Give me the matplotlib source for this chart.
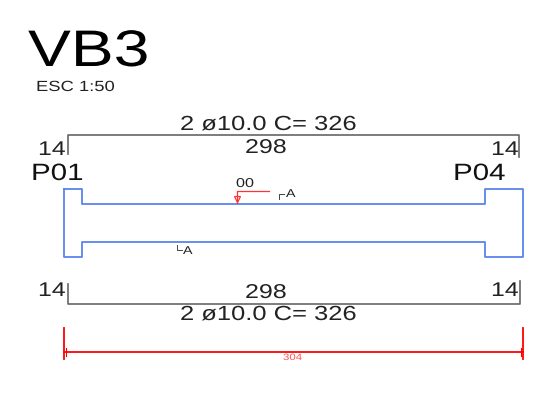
import matplotlib
matplotlib.use('Agg')
import matplotlib.pyplot as plt
from matplotlib.patheffects import AbstractPathEffect

# everything is read off the picture in pixels, the drawing has no real axes
beam_x = [64, 82, 82, 485, 485, 523, 523, 485, 485, 82, 82, 64, 64]
beam_y = [188.5, 188.5, 203.5, 203.5, 188.5, 188.5, 257, 257, 241.5, 241.5, 257, 257, 188.5]

top_bar_x = [68, 68, 519, 519]
top_bar_y = [154, 135, 135, 157]
bottom_bar_x = [67.5, 67.5, 520, 520]
bottom_bar_y = [284, 304, 304, 281]

dim_x = [64, 523]
dim_y = 352
dim_tick_y = [328, 359]
dim_end_y = [348, 356]

leader_x = [269, 237, 237]
leader_y = [191, 191, 203]

labels = [
    # text, left x, baseline y, size, colour
    ('VB3', 28, 66, 37, 'black'),
    ('ESC 1:50', 36, 91, 10.6, '#222222'),
    ('2 ø10.0 C= 326', 180, 130, 14.7, '#222222'),
    ('298', 245, 153, 14.4, '#222222'),
    ('14', 38, 155, 14.3, '#222222'),
    ('14', 491, 155, 14.3, '#222222'),
    ('P01', 31, 180, 17, '#111111'),
    ('P04', 453, 180, 17, '#111111'),
    ('00', 236, 187, 9.3, '#222222'),
    ('A', 286, 197, 8.2, '#222222'),
    ('A', 183, 254, 8.2, '#222222'),
    ('14', 38, 296, 14.3, '#222222'),
    ('14', 491, 296, 14.3, '#222222'),
    ('298', 245, 298, 14.4, '#222222'),
    ('2 ø10.0 C= 326', 180, 320, 14.7, '#222222'),
    ('304', 283, 360, 6.6, '#ff5555'),
]
text_stretch = 1.25


class WideText(AbstractPathEffect):
    # the original lettering is wider than any installed font
    def __init__(self, sx):
        super().__init__()
        self.sx = sx

    def draw_path(self, renderer, gc, tpath, affine, rgbFace=None):
        wide = affine.frozen()
        wide.get_matrix()[0, :2] *= self.sx
        renderer.draw_path(gc, tpath, wide, rgbFace)


plt.rcParams['font.family'] = ['Liberation Sans', 'DejaVu Sans']

fig = plt.figure(figsize=(5.46, 4.08), dpi=100)
ax = fig.add_axes([0, 0, 1, 1])
ax.set_xlim(0, 546)
ax.set_ylim(408, 0)
ax.axis('off')

ax.plot(beam_x, beam_y, color='#5b85ee', lw=1.3)
ax.plot(top_bar_x, top_bar_y, color='#666666', lw=1.2)
ax.plot(bottom_bar_x, bottom_bar_y, color='#666666', lw=1.2)

# red dimension line
ax.plot(dim_x, [dim_y, dim_y], color='red', lw=1.3)
ax.plot([dim_x[0], dim_x[0]], dim_tick_y, color='red', lw=1.3)
ax.plot([dim_x[1], dim_x[1]], dim_tick_y, color='red', lw=1.3)
ax.plot([dim_x[0] + 2, dim_x[0] + 2], dim_end_y, color='red', lw=0.8)
ax.plot([dim_x[1] - 2, dim_x[1] - 2], dim_end_y, color='red', lw=0.8)

# section mark
ax.plot(leader_x, leader_y, color='#ff3333', lw=0.9)
ax.plot([237], [199], marker='v', color='#ff3333', ms=5, mfc='none', mew=0.9)

# little corner marks next to the A labels
ax.plot([279, 279, 284], [199, 194, 194], color='#444444', lw=0.7)
ax.plot([177, 177, 182], [245, 250, 250], color='#444444', lw=0.7)

for txt, x, y, size, col in labels:
    t = ax.text(x, y, txt, fontsize=size, color=col, ha='left', va='baseline')
    t.set_path_effects([WideText(text_stretch)])

fig.savefig('out.png', dpi=100)
